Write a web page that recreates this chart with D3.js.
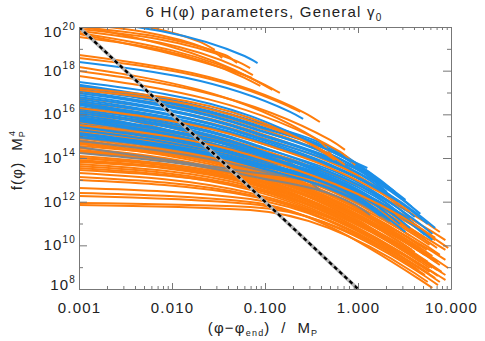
<!DOCTYPE html>
<html>
<head>
<meta charset="utf-8">
<script src="https://cdn.jsdelivr.net/npm/d3@7"></script>
<style>
  body { margin: 0; background: #fff; }
  text { font-family: 'Liberation Sans', Arial, sans-serif; fill: #222; }
</style>
</head>
<body>
<div id="chart"></div>
<script>
// each track is a list of [log10 x, log10 y] points

var upperOrange = [
	[[-3, 20.41], [-1.70, 19.32], [-1.54, 18.95]],
	[[-3, 20.14], [-1.59, 18.95], [-1.46, 18.58]],
	[[-3, 20.00], [-1.43, 18.72], [-1.30, 18.35]],
	[[-3, 19.91], [-1.31, 18.45], [-1.16, 18.12]],
	[[-3, 19.82], [-1.27, 18.12], [-1.13, 17.80]],
	[[-3, 19.68], [-1.29, 17.89], [-1.14, 17.67]],
	[[-3, 19.54], [-1.22, 17.67], [-1.05, 17.30]],
	[[-3, 19.73], [-1.00, 17.35], [-0.84, 16.98]],
	[[-3, 20.05], [-1.11, 17.57], [-0.92, 17.12]],
	[[-3, 18.72], [-0.57, 16.06], [-0.41, 15.65]],
	[[-3, 18.58], [-0.78, 16.43], [-0.62, 16.11]],
	[[-3, 18.17], [-0.43, 14.83], [-0.25, 13.91]],
	[[-3, 17.99], [-0.30, 14.83], [-0.14, 14.37]],
	[[-3, 17.76], [-0.19, 14.28], [-0.03, 13.68]]
];

var upperBlue = [
	[[-3, 20.32], [-1.22, 18.67], [-1.08, 18.35]],
	[[-3, 18.40], [-0.73, 16.11], [-0.59, 15.79]],
	[[-3, 17.48], [-1.16, 15.93], [-0.09, 13.91], [0.10, 13.54]]
];

var bandBlue = [
	[[-3, 17.35], [-1.16, 15.74], [-0.01, 13.73], [0.15, 13.18]],
	[[-3, 17.30], [-1.16, 15.70], [0.13, 13.31], [0.29, 12.76]],
	[[-3, 17.25], [-1.16, 15.60], [0.24, 12.99], [0.40, 12.44]],
	[[-3, 17.16], [-1.16, 15.56], [0.08, 13.36], [0.24, 12.81]],
	[[-3, 17.07], [-1.16, 15.42], [0.34, 12.63], [0.51, 12.08]],
	[[-3, 16.98], [-1.16, 15.38], [0.16, 12.99], [0.31, 12.44]],
	[[-3, 16.89], [-1.16, 15.24], [0.42, 12.31], [0.58, 11.76]],
	[[-3, 16.80], [-1.16, 15.19], [0.27, 12.54], [0.43, 11.99]],
	[[-3, 16.70], [-1.16, 15.06], [0.51, 11.99], [0.67, 11.44]],
	[[-3, 16.61], [-1.16, 15.01], [0.34, 12.17], [0.51, 11.62]],
	[[-3, 16.52], [-1.16, 14.87], [0.59, 11.53], [0.75, 10.98]],
	[[-3, 16.48], [-1.16, 14.92], [0.67, 11.34], [0.83, 10.79]],
	[[-3, 16.43], [-1.16, 14.83], [0.45, 11.85], [0.61, 11.30]],
	[[-3, 16.34], [-1.16, 14.69], [0.64, 11.07], [0.80, 10.52]],
	[[-3, 16.25], [-1.16, 14.64], [0.40, 11.80], [0.56, 11.25]],
	[[-3, 16.15], [-1.16, 14.50], [0.61, 10.89], [0.77, 10.34]],
	[[-3, 16.06], [-1.16, 14.46], [0.51, 11.30], [0.67, 10.75]],
	[[-3, 15.97], [-1.16, 14.37], [0.29, 11.99], [0.45, 11.44]],
	[[-3, 15.88], [-1.16, 14.28], [0.56, 11.02], [0.72, 10.47]],
	[[-3, 15.83], [-1.16, 14.32], [0.64, 10.79], [0.80, 10.24]],
	[[-3, 15.79], [-1.16, 14.18], [0.24, 11.89], [0.40, 11.34]],
	[[-3, 15.70], [-1.16, 14.14], [0.40, 11.34], [0.56, 10.79]],
	[[-3, 15.56], [-1.16, 14.05], [0.13, 12.08], [0.29, 11.53]],
	[[-3, 15.42], [-1.16, 13.96], [0.29, 11.53], [0.45, 10.98]],
	[[-3, 15.28], [-1.16, 13.86], [0.18, 11.71], [0.34, 11.16]],
	[[-3, 15.15], [-1.16, 13.77], [0.08, 11.89], [0.24, 11.34]],
	[[-3, 15.06], [-1.16, 13.77], [0.02, 12.17], [0.18, 11.62]],
	[[-3, 14.96], [-1.16, 13.68], [0.34, 11.16], [0.51, 10.61]]
];

// orange tracks that run through the blue band, drawn beneath it
var orangeMid = [
	[[-3, 16.98], [-1.16, 15.51], [-0.14, 13.68], [0.02, 13.22]],
	[[-3, 16.75], [-1.16, 15.28], [-0.01, 13.22], [0.15, 12.76]],
	[[-3, 16.57], [-1.16, 15.10], [0.18, 12.72], [0.34, 12.26]],
	[[-3, 16.11], [-1.16, 14.55], [0.72, 11.07], [0.88, 10.61]],
	[[-3, 15.83], [-1.16, 14.37], [0.77, 10.70], [0.94, 10.24]],
	[[-3, 15.24], [-1.16, 13.91], [0.81, 10.34], [0.97, 9.88]]
];

// orange tracks drawn over the blue band
var orangeTop = [
	[[-3, 17.21], [-1.16, 15.83], [-0.30, 14.14], [-0.14, 13.68]],
	[[-3, 17.12], [-1.16, 15.70], [-0.41, 14.37], [-0.25, 13.91]],
	[[-3, 16.29], [-1.16, 14.83], [0.40, 11.99], [0.56, 11.53]],
	[[-3, 15.51], [-1.16, 14.14], [0.67, 10.79], [0.83, 10.34]]
];

var orangeMass = [
	[[-3, 16.66], [-1.16, 14.37], [0.51, 11.25], [0.67, 10.79]],
	[[-3, 16.57], [-1.16, 14.32], [0.59, 10.98], [0.75, 10.52]],
	[[-3, 16.48], [-1.16, 14.23], [0.67, 10.70], [0.83, 10.24]],
	[[-3, 16.29], [-1.16, 14.09], [0.56, 10.79], [0.72, 10.34]],
	[[-3, 16.11], [-1.16, 14.00], [0.77, 10.24], [0.94, 9.79]],
	[[-3, 16.02], [-1.16, 13.96], [0.69, 10.34], [0.85, 9.88]],
	[[-3, 15.93], [-1.16, 13.91], [0.61, 10.47], [0.77, 10.02]],
	[[-3, 15.74], [-1.16, 13.82], [0.72, 10.02], [0.88, 9.56]],
	[[-3, 15.65], [-1.16, 13.77], [0.58, 10.24], [0.74, 9.79]],
	[[-3, 15.56], [-1.16, 13.68], [0.51, 10.43], [0.67, 9.97]],
	[[-3, 15.42], [-1.16, 13.63], [0.53, 10.24], [0.69, 9.79]],
	[[-3, 15.38], [-1.16, 13.59], [0.77, 9.79], [0.94, 9.33]],
	[[-3, 15.28], [-1.16, 13.54], [0.70, 9.69], [0.86, 9.24]],
	[[-3, 15.19], [-1.16, 13.50], [0.64, 9.97], [0.80, 9.51]],
	[[-3, 15.06], [-1.16, 13.45], [0.68, 9.69], [0.84, 9.24]],
	[[-3, 15.01], [-1.16, 13.41], [0.81, 9.42], [0.97, 8.96]],
	[[-3, 14.92], [-1.16, 13.36], [0.48, 10.24], [0.65, 9.79]],
	[[-3, 14.83], [-1.16, 13.31], [0.56, 10.02], [0.72, 9.56]],
	[[-3, 14.69], [-1.16, 13.27], [0.42, 10.02], [0.58, 9.56]],
	[[-3, 14.64], [-1.16, 13.22], [0.72, 9.56], [0.88, 9.10]],
	[[-3, 14.46], [-1.16, 13.13], [0.45, 10.15], [0.61, 9.69]],
	[[-3, 14.37], [-1.16, 13.08], [0.74, 9.24], [0.90, 8.78]],
	[[-3, 14.32], [-1.16, 13.08], [0.61, 9.42], [0.77, 8.96]],
	[[-3, 14.28], [-1.16, 13.04], [0.69, 9.33], [0.85, 8.87]],
	[[-3, 14.09], [-1.16, 12.95], [0.59, 9.69], [0.75, 9.24]],
	[[-3, 14.00], [-1.16, 12.90], [0.64, 9.42], [0.80, 8.96]],
	[[-3, 13.91], [-1.16, 12.86], [0.77, 9.10], [0.94, 8.64]],
	[[-3, 13.86], [-1.16, 12.81], [0.70, 9.05], [0.86, 8.60]],
	[[-3, 13.73], [-1.16, 12.72], [0.51, 9.69], [0.67, 9.24]],
	[[-3, 13.63], [-1.16, 12.63], [0.77, 8.87], [0.94, 8.41]],
	[[-3, 13.54], [-1.16, 12.54], [0.67, 8.96], [0.83, 8.50]],
	[[-3, 13.31], [-1.16, 12.40], [0.61, 9.24], [0.77, 8.78]],
	[[-3, 13.13], [-1.16, 12.31], [0.72, 8.78], [0.88, 8.32]],
	[[-3, 12.99], [-1.16, 12.26], [0.51, 9.51], [0.67, 9.05]],
	[[-3, 12.63], [-1.16, 12.12], [0.56, 9.10], [0.72, 8.64]],
	[[-3, 12.40], [-1.16, 11.99], [0.64, 8.50], [0.80, 8.05]],
	[[-3, 12.26], [-1.16, 11.89], [0.70, 8.64], [0.86, 8.18]],
	[[-3, 11.94], [-1.16, 11.76], [0.48, 9.33], [0.65, 8.87]],
	[[-3, 11.85], [-1.16, 11.62], [0.59, 8.78], [0.75, 8.32]],
	[[-3, 16.20], [-1.16, 14.37], [0.29, 11.62], [0.45, 11.16]],
	[[-3, 15.47], [-1.16, 13.91], [0.40, 10.89], [0.56, 10.43]],
	[[-3, 14.73], [-1.16, 13.54], [0.34, 10.70], [0.51, 10.24]],
	[[-3, 14.00], [-1.16, 13.08], [0.42, 10.24], [0.58, 9.79]],
	[[-3, 14.55], [-1.16, 13.36], [0.08, 11.16], [0.24, 10.70]],
	[[-3, 13.82], [-1.16, 12.99], [0.18, 10.70], [0.34, 10.24]],
	[[-3, 13.45], [-1.16, 12.63], [0.29, 10.02], [0.45, 9.56]],
	[[-3, 15.10], [-1.16, 13.73], [0.24, 11.07], [0.40, 10.61]]
];

var greyLines = [
	[[-3, 15.79], [-1.16, 14.37], [-0.46, 13.45], [-0.30, 12.99]],
	[[-3, 15.47], [-1.16, 14.00], [-0.14, 12.63], [0.02, 12.17]],
	[[-3, 15.10], [-1.16, 13.82], [-0.30, 12.76], [-0.14, 12.31]],
	[[-3, 14.78], [-1.16, 13.54], [0.08, 11.85], [0.24, 11.39]],
	[[-3, 14.50], [-1.16, 13.36], [-0.57, 12.99], [-0.41, 12.54]],
	[[-3, 14.23], [-1.16, 13.18], [-0.03, 11.85], [0.13, 11.39]],
	[[-3, 15.70], [-1.16, 14.28], [-0.78, 13.91], [-0.62, 13.45]],
	[[-3, 14.92], [-1.16, 13.68], [0.18, 11.53], [0.34, 11.07]]
];

// f = phi^-4 reference line
var guideLine = [[-3, 20], [0, 8]];

var xMajor = [0.001, 0.01, 0.1, 1, 10];
var xLabels = ['0.001', '0.010', '0.100', '1.000', '10.000'];
var yMajor = [1e8, 1e10, 1e12, 1e14, 1e16, 1e18, 1e20];
var yExp = ['8', '10', '12', '14', '16', '18', '20'];
var yMinor = [1e9, 1e11, 1e13, 1e15, 1e17, 1e19];

var width = 485,
	height = 341,
	margin = { top: 27, right: 34, bottom: 52, left: 79 },
	drawWidth = width - margin.left - margin.right,
	drawHeight = height - margin.top - margin.bottom;

var orange = '#ff7d0c',
	blue = '#1c8fe8',
	grey = '#858585',
	axisColor = '#777';

var svg = d3.select('#chart').append('svg')
	.attr('width', width)
	.attr('height', height);

var x = d3.scaleLog().domain([0.001, 10]).range([margin.left, margin.left + drawWidth]);
var y = d3.scaleLog().domain([1e8, 1e20]).range([margin.top + drawHeight, margin.top]);

svg.append('clipPath').attr('id', 'plotClip')
	.append('rect')
	.attr('x', margin.left)
	.attr('y', margin.top)
	.attr('width', drawWidth)
	.attr('height', drawHeight);

var line = d3.line()
	.x(function(d) { return x(Math.pow(10, d[0])); })
	.y(function(d) { return y(Math.pow(10, d[1])); })
	.curve(d3.curveMonotoneX);

var plot = svg.append('g').attr('clip-path', 'url(#plotClip)');

var drawTracks = function(data, color) {
	plot.append('g').selectAll('path')
		.data(data)
		.enter().append('path')
		.attr('d', line)
		.attr('fill', 'none')
		.attr('stroke', color)
		.attr('stroke-width', 2);
};

drawTracks(orangeMass, orange);
drawTracks(orangeMid, orange);
drawTracks(greyLines, grey);
drawTracks(bandBlue, blue);
drawTracks(orangeTop, orange);
drawTracks(upperOrange, orange);
drawTracks(upperBlue, blue);

var straight = d3.line()
	.x(function(d) { return x(Math.pow(10, d[0])); })
	.y(function(d) { return y(Math.pow(10, d[1])); });

plot.append('path')
	.attr('d', straight(guideLine))
	.attr('fill', 'none')
	.attr('stroke', '#b5b5b5')
	.attr('stroke-width', 3.6);

plot.append('path')
	.attr('d', straight(guideLine))
	.attr('fill', 'none')
	.attr('stroke', '#000')
	.attr('stroke-width', 2.4)
	.attr('stroke-dasharray', '4,3');

// axes, ticks pointing inward on all four sides
var xMinor = x.ticks().filter(function(t) { return xMajor.indexOf(t) < 0; });

var styleAxis = function(g) {
	g.selectAll('.domain').attr('stroke', axisColor);
	g.selectAll('.tick line').attr('stroke', axisColor);
};

var bottom = svg.append('g')
	.attr('transform', 'translate(0,' + (margin.top + drawHeight) + ')')
	.call(d3.axisBottom(x).tickValues(xMajor)
		.tickFormat(function(d, i) { return xLabels[i]; })
		.tickSizeInner(-6).tickSizeOuter(0).tickPadding(13))
	.call(styleAxis);

bottom.selectAll('text')
	.attr('font-family', 'Liberation Sans, Arial, sans-serif')
	.attr('font-size', 15)
	.attr('letter-spacing', 1.2)
	.attr('fill', '#222');

svg.append('g')
	.attr('transform', 'translate(0,' + (margin.top + drawHeight) + ')')
	.call(d3.axisBottom(x).tickValues(xMinor).tickFormat('').tickSize(-3))
	.call(styleAxis)
	.select('.domain').remove();

svg.append('g')
	.attr('transform', 'translate(0,' + margin.top + ')')
	.call(d3.axisTop(x).tickValues(xMajor).tickFormat('').tickSizeInner(-6).tickSizeOuter(0))
	.call(styleAxis);

svg.append('g')
	.attr('transform', 'translate(0,' + margin.top + ')')
	.call(d3.axisTop(x).tickValues(xMinor).tickFormat('').tickSize(-3))
	.call(styleAxis)
	.select('.domain').remove();

svg.append('g')
	.attr('transform', 'translate(' + margin.left + ',0)')
	.call(d3.axisLeft(y).tickValues(yMajor).tickFormat('').tickSizeInner(-8).tickSizeOuter(0))
	.call(styleAxis);

svg.append('g')
	.attr('transform', 'translate(' + margin.left + ',0)')
	.call(d3.axisLeft(y).tickValues(yMinor).tickFormat('').tickSize(-4))
	.call(styleAxis)
	.select('.domain').remove();

svg.append('g')
	.attr('transform', 'translate(' + (margin.left + drawWidth) + ',0)')
	.call(d3.axisRight(y).tickValues(yMajor).tickFormat('').tickSizeInner(-8).tickSizeOuter(0))
	.call(styleAxis);

svg.append('g')
	.attr('transform', 'translate(' + (margin.left + drawWidth) + ',0)')
	.call(d3.axisRight(y).tickValues(yMinor).tickFormat('').tickSize(-4))
	.call(styleAxis)
	.select('.domain').remove();

// y tick labels as 10 with superscript exponent, kept inside the axis span
var yLabels = svg.append('g').selectAll('text')
	.data(yMajor)
	.enter().append('text')
	.attr('x', margin.left - 3)
	.attr('y', function(d) {
		return Math.max(margin.top + 5, Math.min(margin.top + drawHeight - 4, y(d))) + 5;
	})
	.attr('text-anchor', 'end')
	.attr('font-size', 15)
	.attr('letter-spacing', 1.2);

yLabels.append('tspan').text('10');
yLabels.append('tspan')
	.attr('font-size', 10)
	.attr('dy', -7)
	.text(function(d, i) { return yExp[i]; });

// titles
var title = svg.append('text')
	.attr('x', 264)
	.attr('y', 17)
	.attr('text-anchor', 'middle')
	.attr('font-size', 15)
	.attr('letter-spacing', 1.2)
	.style('white-space', 'pre');
title.append('tspan').text('6 H(φ) parameters, General γ');
title.append('tspan').attr('font-size', 10).attr('dy', 4).text('0');

var xTitle = svg.append('text')
	.attr('x', 263)
	.attr('y', 333)
	.attr('text-anchor', 'middle')
	.attr('font-size', 15)
	.attr('letter-spacing', 1.2)
	.style('white-space', 'pre');
xTitle.append('tspan').text('(φ−φ');
xTitle.append('tspan').attr('font-size', 9).attr('dy', 3).text('end');
xTitle.append('tspan').attr('dy', -3).text(')  /  M');
xTitle.append('tspan').attr('font-size', 9).attr('dy', 3).text('P');

var yTitle = svg.append('text')
	.attr('transform', 'translate(22,' + 160 + ') rotate(-90)')
	.attr('text-anchor', 'middle')
	.attr('font-size', 15)
	.attr('letter-spacing', 1.2)
	.style('white-space', 'pre');
yTitle.append('tspan').text('f(φ)  M');
yTitle.append('tspan').attr('font-size', 9).attr('dy', 3).text('P');
yTitle.append('tspan').attr('font-size', 9).attr('dx', -6).attr('dy', -10).text('4');
</script>
</body>
</html>
